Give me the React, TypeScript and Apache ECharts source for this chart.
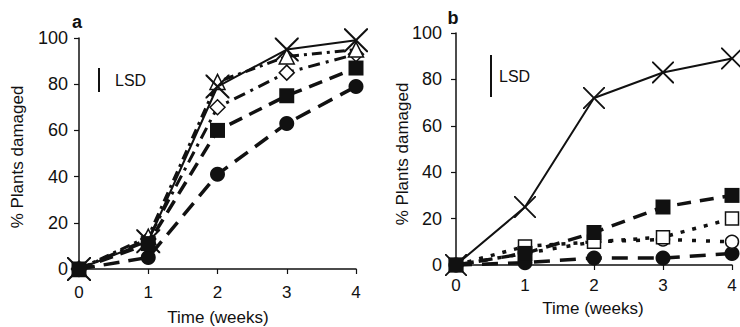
import React, { useEffect, useRef } from "react";
import * as echarts from "echarts";

const weeks = [0, 1, 2, 3, 4];

// Panel a
const aCross = [0, 12, 79, 95, 99];
const aTriangle = [0, 14, 81, 92, 95];
const aDiamond = [0, 13, 70, 85, 93];
const aSquare = [0, 11, 60, 75, 87];
const aCircle = [0, 5, 41, 63, 79];

// Panel b
const bCross = [0, 25, 72, 83, 89];
const bSquare = [0, 5, 14, 25, 30];
const bOpenSquare = [0, 8, 10, 12, 20];
const bOpenCircle = [0, 5, 10, 11, 10];
const bCircle = [0, 1, 3, 3, 5];

const CROSS =
  "path://M0,0L1.2,0L10,8.8L18.8,0L20,0L20,1.2L11.2,10L20,18.8L20,20L18.8,20L10,11.2L1.2,20L0,20L0,18.8L8.8,10L0,1.2Z";

const FONT = "Liberation Sans, Arial, Helvetica, sans-serif";
const INK = "#111";

function pts(vals: number[]) {
  return weeks.map((w, i) => [w, vals[i]]);
}

function mkSeries(
  idx: number,
  vals: number[],
  symbol: string,
  size: number,
  filled: boolean,
  dash: any,
  width: number,
  z: number
) {
  return {
    type: "line",
    xAxisIndex: idx,
    yAxisIndex: idx,
    data: pts(vals),
    symbol,
    symbolSize: size,
    showSymbol: true,
    clip: false,
    lineStyle: { color: INK, width, type: dash, cap: "butt" },
    itemStyle: filled
      ? { color: INK, borderColor: INK, borderWidth: 0 }
      : { color: "#fff", borderColor: INK, borderWidth: 1.5 },
    z,
  };
}

export default function App() {
  const ref = useRef<HTMLDivElement>(null);
  useEffect(() => {
    if (!ref.current) return;
    const chart = echarts.init(ref.current, null, { renderer: "svg" });
    const xAxisBase = (gridIndex: number, margin: number) => ({
      type: "value",
      gridIndex,
      min: 0,
      max: 4,
      interval: 1,
      splitLine: { show: false },
      axisLine: { show: true, lineStyle: { color: INK, width: 1.5 } },
      axisTick: { show: true, length: 5, lineStyle: { color: INK, width: 1.2 } },
      axisLabel: { color: INK, fontSize: 17, fontFamily: FONT, margin },
    });
    const yAxisBase = (gridIndex: number, margin: number) => ({
      type: "value",
      gridIndex,
      min: 0,
      max: 100,
      interval: 20,
      splitLine: { show: false },
      axisLine: { show: true, lineStyle: { color: INK, width: 1.5 } },
      axisTick: { show: true, length: 5, lineStyle: { color: INK, width: 1.2 } },
      axisLabel: { color: INK, fontSize: 18, fontFamily: FONT, margin },
    });
    const txt = (x: number, y: number, text: string, opts: any = {}) => ({
      type: "text",
      x,
      y,
      rotation: opts.rotation || 0,
      style: {
        text,
        fill: INK,
        font: `${opts.bold ? "bold " : ""}${opts.size || 17}px ${FONT}`,
        textAlign: opts.align || "center",
        textVerticalAlign: "middle",
      },
    });
    chart.setOption({
      animation: false,
      backgroundColor: "#fff",
      textStyle: { fontFamily: FONT },
      grid: [
        { left: 79, top: 38, width: 277, height: 231 },
        { left: 456, top: 33, width: 276, height: 232 },
      ],
      xAxis: [xAxisBase(0, 15), xAxisBase(1, 12)],
      yAxis: [yAxisBase(0, 11), yAxisBase(1, 14)],
      series: [
        mkSeries(0, aCircle, "circle", 15, true, [16, 9], 3.5, 3),
        mkSeries(0, aDiamond, "diamond", 15, false, [12, 6, 3, 6], 3, 4),
        mkSeries(0, aTriangle, "triangle", 15, false, [10, 5, 3, 5], 3, 4),
        mkSeries(0, aCross, CROSS, 24, true, "solid", 2, 5),
        mkSeries(0, aSquare, "rect", 15, true, [14, 8], 3.5, 6),
        mkSeries(1, bCircle, "circle", 15, true, [16, 10], 3.5, 3),
        mkSeries(1, bOpenCircle, "circle", 13, false, [4, 10], 3.5, 4),
        mkSeries(1, bOpenSquare, "rect", 13, false, [4, 8], 3.5, 4),
        mkSeries(1, bCross, CROSS, 22, true, "solid", 2, 5),
        mkSeries(1, bSquare, "rect", 15, true, [14, 9], 3.5, 6),
      ],
      graphic: [
        txt(77, 22, "a", { bold: true, size: 18 }),
        txt(453, 18, "b", { bold: true, size: 18 }),
        txt(17, 157, "% Plants damaged", { rotation: Math.PI / 2 }),
        txt(402, 154, "% Plants damaged", { rotation: Math.PI / 2 }),
        txt(218, 317, "Time (weeks)"),
        txt(593, 308, "Time (weeks)"),
        {
          type: "line",
          shape: { x1: 99, y1: 68, x2: 99, y2: 92 },
          style: { stroke: INK, lineWidth: 2 },
        },
        txt(115, 80, "LSD", { align: "left", size: 16 }),
        {
          type: "line",
          shape: { x1: 491, y1: 55, x2: 491, y2: 97 },
          style: { stroke: INK, lineWidth: 2 },
        },
        txt(499, 76, "LSD", { align: "left", size: 16 }),
      ],
    });
    return () => chart.dispose();
  }, []);
  return (
    <div
      ref={ref}
      style={{ position: "fixed", left: 0, top: 0, width: 740, height: 327, background: "#fff" }}
    />
  );
}
